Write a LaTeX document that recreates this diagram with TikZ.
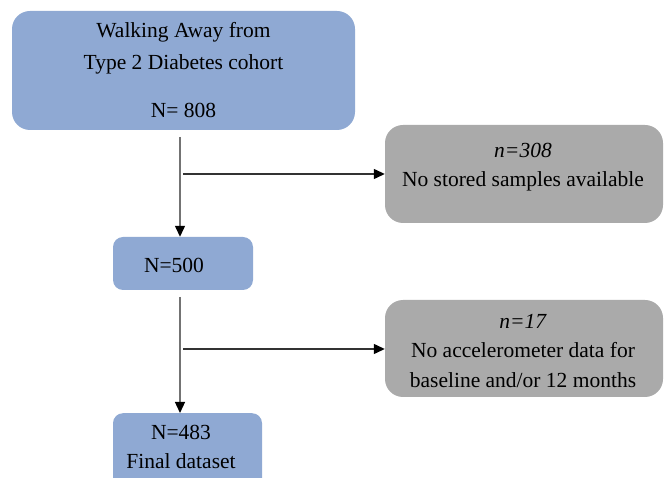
\documentclass[tikz,border=0pt]{standalone}
\usepackage{fontspec}
\setmainfont{Liberation Serif}
\usetikzlibrary{arrows.meta}
\definecolor{boxblue}{RGB}{143,169,211}
\definecolor{boxgray}{RGB}{170,170,170}
\tikzset{
  bluebox/.style={fill=boxblue, rounded corners=#1, inner sep=0pt},
  graybox/.style={fill=boxgray, rounded corners=18pt, inner sep=0pt, align=center},
  txt/.style={inner sep=0pt, align=center, font=\fontsize{21.5}{29.5}\selectfont},
  flow/.style={line width=1.3pt, -{Triangle[length=11pt,width=10pt,fill=black,color=black]}},
}
\begin{document}
\begin{tikzpicture}[x=1pt,y=-1pt]
\useasboundingbox (0,0) rectangle (665,478);
% boxes
\node[bluebox=18pt, minimum width=343pt, minimum height=119pt, align=center,
      font=\fontsize{21.5}{32}\selectfont] (top) at (183.5,70.5)
      {Walking Away from\\Type 2 Diabetes cohort\\[16pt]N= 808};
\node[graybox, minimum width=278pt, minimum height=98pt] (g1) at (524,174) {};
\node[txt] (g1t) at (523,167) {\textit{n=308}\\No stored samples available};
\node[bluebox=10pt, minimum width=140pt, minimum height=53pt] (b500) at (183,263.5) {};
\node[txt] (t500) at (174,265) {N=500};
\node[graybox, minimum width=278pt, minimum height=97pt] (g2) at (524,348.5) {};
\node[txt] (g2t) at (523,351) {\textit{n=17}\\No accelerometer data for\\baseline and/or 12 months};
\node[bluebox=10pt, minimum width=149pt, minimum height=80pt, anchor=north] (b483) at (187.5,413) {};
\node[txt] (t483) at (181,447) {N=483\\Final dataset};
% connectors
\coordinate (s1) at (180,137);
\coordinate (h1) at (183,174);
\coordinate (s2) at (180,297);
\coordinate (h2) at (183,349);
\draw[flow, draw=black!55] (s1) -- (s1 |- b500.north);
\draw[flow, draw=black!80] (h1) -- (h1 -| g1.west);
\draw[flow, draw=black!55] (s2) -- (s2 |- b483.north);
\draw[flow, draw=black!80] (h2) -- (h2 -| g2.west);
\end{tikzpicture}
\end{document}
